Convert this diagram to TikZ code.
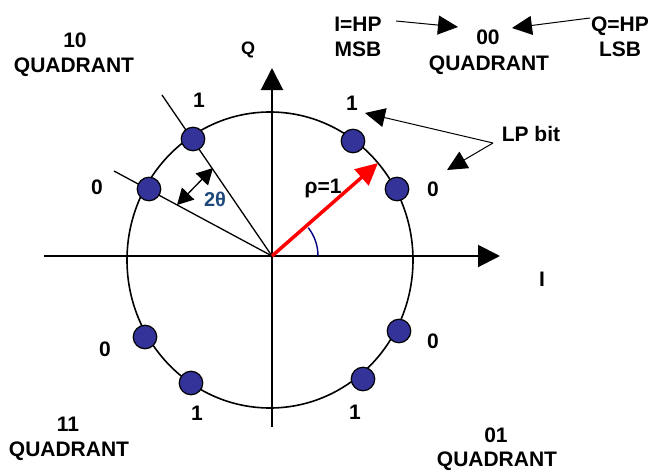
\documentclass[tikz,border=0pt]{standalone}
\usepackage{fontspec}
\setmainfont{Liberation Sans}
\usetikzlibrary{arrows.meta}
\definecolor{dotblue}{RGB}{51,51,153}
\definecolor{thetablue}{RGB}{28,72,124}
\definecolor{arcblue}{RGB}{0,0,128}
\tikzset{
  lbl/.style={font=\bfseries\fontsize{21}{24}\selectfont, anchor=base, inner sep=0pt},
  dot/.style={circle, draw=black, fill=dotblue, minimum size=23.5pt, inner sep=0pt, line width=1.2pt},
  axis/.style={line width=2pt, -{Triangle[length=22pt,width=22pt]}},
  pointer/.style={line width=1pt, -{Triangle[length=20pt,width=19pt]}},
  radial/.style={line width=1.3pt},
}
\begin{document}
\begin{tikzpicture}[x=1pt,y=1pt]
\fill[white] (0,0) rectangle (649,-471);
\useasboundingbox (0,0) rectangle (649,-471);
% axes
\coordinate (O) at (272,-256);
\coordinate (Ileft) at (44,-256);
\coordinate (Itip) at (500,-256);
\coordinate (Qbot) at (272,-427);
\coordinate (Qtip) at (272,-68);
\draw[axis] (Ileft) -- (Itip);
\draw[axis] (Qbot) -- (Qtip);
% circle
\draw[line width=1.6pt] (270,-260) ellipse [x radius=143pt, y radius=148pt];
% radial lines in 10 quadrant
\coordinate (r1end) at (162,-95);
\coordinate (r0end) at (114,-171);
\draw[radial] (O) -- (r1end);
\draw[radial] (O) -- (r0end);
% 2theta arrow
\coordinate (ta) at (177,-205);
\coordinate (tb) at (213,-168);
\draw[line width=1.3pt, {Triangle[length=16pt,width=17pt]}-{Triangle[length=16pt,width=17pt]}] (ta) -- (tb);
\node[font=\bfseries\fontsize{20}{24}\selectfont, anchor=base, inner sep=0pt, text=thetablue] (twotheta) at (215,-206) {2θ};
% angle arc
\draw[arcblue, line width=1.4pt] ([shift={(0:46pt)}]O) arc[start angle=0, end angle=38, radius=46pt];
% red vector
\coordinate (rtip) at (378,-163);
\draw[red, line width=3.5pt, -{Triangle[length=22pt,width=21pt]}] (O) -- (rtip);
\node[lbl] (rho) at (323,-193) {ρ=1};
% dots
\node[dot] (d1) at (193,-139) {};
\node[dot] (d2) at (149,-189) {};
\node[dot] (d3) at (353,-141) {};
\node[dot] (d4) at (397,-189) {};
\node[dot] (d5) at (145,-337) {};
\node[dot] (d6) at (191,-383) {};
\node[dot] (d7) at (399,-331) {};
\node[dot] (d8) at (363,-379) {};
% bit labels
\node[lbl] (b1) at (199,-107) {1};
\node[lbl] (b2) at (97,-194) {0};
\node[lbl] (b3) at (352,-110) {1};
\node[lbl] (b4) at (433,-196.5) {0};
\node[lbl] (b5) at (105,-356) {0};
\node[lbl] (b6) at (197,-420) {1};
\node[lbl] (b7) at (433,-348) {0};
\node[lbl] (b8) at (355,-419) {1};
% axis labels
\node[lbl, font=\bfseries\fontsize{18}{22}\selectfont] (Qlab) at (248,-54) {Q};
\node[lbl] (Ilab) at (542,-286) {I};
% quadrant labels
\node[lbl] (q10a) at (75,-47) {10};
\node[lbl] (q10b) at (74,-72) {QUADRANT};
\node[lbl] (q00a) at (488,-45) {00};
\node[lbl] (q00b) at (489,-70) {QUADRANT};
\node[lbl] (q11a) at (68,-431) {11};
\node[lbl] (q11b) at (69,-456) {QUADRANT};
\node[lbl] (q01a) at (496,-442) {01};
\node[lbl] (q01b) at (497,-466) {QUADRANT};
% HP labels
\node[lbl] (ihp) at (358,-31.5) {I=HP};
\node[lbl] (msb) at (358,-56.5) {MSB};
\node[lbl] (qhp) at (620,-31.5) {Q=HP};
\node[lbl] (lsb) at (620,-56.5) {LSB};
\coordinate (ihpfrom) at (396,-21);
\coordinate (ihpto) at (458,-27);
\coordinate (qhpfrom) at (590,-18);
\coordinate (qhpto) at (512,-28);
\draw[pointer] (ihpfrom) -- (ihpto);
\draw[pointer] (qhpfrom) -- (qhpto);
% LP bit
\node[lbl] (lp) at (531,-141.5) {LP bit};
\coordinate (lpfrom) at (493,-143);
\coordinate (lpto1) at (365,-113);
\coordinate (lpto0) at (447,-170);
\draw[pointer] (lpfrom) -- (lpto1);
\draw[pointer] (lpfrom) -- (lpto0);
\end{tikzpicture}
\end{document}
